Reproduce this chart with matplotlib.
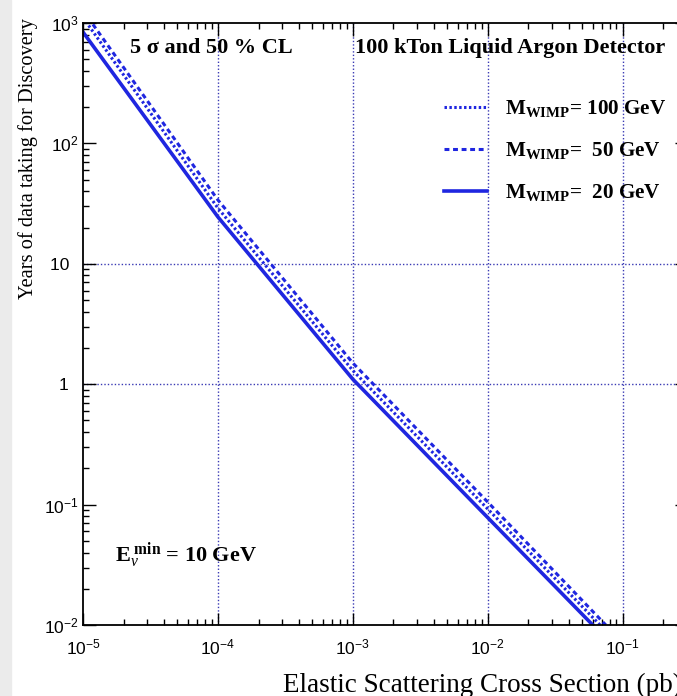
import matplotlib
matplotlib.use("Agg")
import matplotlib.pyplot as plt
from matplotlib.patches import Rectangle

plt.rcParams['mathtext.fontset'] = 'custom'
plt.rcParams['mathtext.rm'] = 'Liberation Serif'
plt.rcParams['mathtext.it'] = 'Liberation Serif:italic'
plt.rcParams['mathtext.bf'] = 'Liberation Serif:bold'
plt.rcParams['mathtext.sf'] = 'Liberation Sans'

# cross section (pb) vs years of data taking
sigma = [1e-5, 1e-4, 1e-3, 1e-2]
years_20 = [840, 24.5, 1.1, 0.078]
years_50 = [1270, 33.9, 1.5, 0.105]
years_100 = [1110, 29.0, 1.3, 0.092]
# where each curve meets 1e-2 years
sigma_end = {'20': 0.060, '50': 0.075, '100': 0.068}
y_end = 0.01

x_grid = [1e-4, 1e-3, 1e-2, 1e-1]
y_grid = [10, 1]
x_ticks = [1e-5, 1e-4, 1e-3, 1e-2, 1e-1]
x_ticklabels = [r'$\mathsf{10^{-5}}$', r'$\mathsf{10^{-4}}$', r'$\mathsf{10^{-3}}$',
                r'$\mathsf{10^{-2}}$', r'$\mathsf{10^{-1}}$']
y_ticks = [1e-2, 1e-1, 1, 10, 1e2, 1e3]
y_ticklabels = [r'$\mathsf{10^{-2}}$', r'$\mathsf{10^{-1}}$', '1  ', '10  ',
                r'$\mathsf{10^{2}}$', r'$\mathsf{10^{3}}$']

W, H = 677, 696
blue = '#1f26e0'
grid_col = '#3a3ab4'


def fx(x):
    return x / W


def fy(y):
    return 1 - y / H


fig = plt.figure(figsize=(W / 100, H / 100), dpi=100)
fig.patches.append(Rectangle((0, 0), fx(11), 1, transform=fig.transFigure,
                             color='#ebebeb', zorder=0))

ax = fig.add_axes([fx(83), fy(625), 604 / W, 602 / H])
ax.set_xscale('log')
ax.set_yscale('log')
ax.set_xlim(1e-5, 0.3)
ax.set_ylim(1e-2, 1e3)

for xv in x_grid:
    ax.axvline(xv, color=grid_col, lw=1.0, ls=(0, (1, 1.5)), zorder=1)
for yv in y_grid:
    ax.axhline(yv, color=grid_col, lw=1.0, ls=(0, (1, 1.5)), zorder=1)

l100, = ax.plot(sigma + [sigma_end['100']], years_100 + [y_end], color=blue,
                lw=2.2, ls=(0, (0.8, 0.8)))
l50, = ax.plot(sigma + [sigma_end['50']], years_50 + [y_end], color=blue,
               lw=2.2, ls=(0, (1.6, 1.2)))
l20, = ax.plot(sigma + [sigma_end['20']], years_20 + [y_end], color=blue,
               lw=2.6, ls='-')

ax.set_xticks(x_ticks)
ax.set_xticklabels(x_ticklabels)
ax.set_yticks(y_ticks)
ax.set_yticklabels(y_ticklabels)
ax.tick_params(which='both', direction='in', top=True, right=True,
               labelsize=12.5, colors='black')
ax.tick_params(which='major', length=9, width=1.0)
ax.tick_params(axis='x', which='major', pad=9)
ax.tick_params(axis='y', which='major', pad=3)
ax.tick_params(which='minor', length=4.5, width=1.0)
for lab in ax.get_xticklabels() + ax.get_yticklabels():
    lab.set_family('Liberation Sans')
for s in ax.spines.values():
    s.set_linewidth(1.3)

leg = ax.legend([l100, l50, l20],
                [r'$\mathbf{M}_{\mathbf{WIMP}}$= 100 GeV',
                 r'$\mathbf{M}_{\mathbf{WIMP}}$=  50 GeV',
                 r'$\mathbf{M}_{\mathbf{WIMP}}$=  20 GeV'],
                loc='upper left', bbox_to_anchor=(fx(444), fy(98)),
                bbox_transform=fig.transFigure, frameon=False,
                prop={'family': 'Liberation Serif', 'weight': 'bold', 'size': 15.2},
                handlelength=2.05, handletextpad=0.85, labelspacing=1.0,
                borderpad=0, borderaxespad=0)

serif_bold = dict(family='Liberation Serif', weight='bold', size=16)
fig.text(fx(130), fy(48), '5 σ and 50 % CL', va='center', ha='left', **serif_bold)
fig.text(fx(355), fy(48), '100 kTon Liquid Argon Detector', va='center',
         ha='left', **serif_bold)
fig.text(fx(115), fy(555), r'$\mathbf{E}_{\nu}^{\ \mathbf{min}}$ = 10 GeV',
         va='center', ha='left', **serif_bold)

fig.text(fx(28), fy(18), 'Years of data taking for Discovery', rotation=90,
         ha='center', va='top', family='Liberation Serif', size=14.7)
fig.text(fx(283), fy(692), 'Elastic Scattering Cross Section (pb)',
         ha='left', va='baseline', family='Liberation Serif', size=19.5)

fig.savefig('out.png', dpi=100)
